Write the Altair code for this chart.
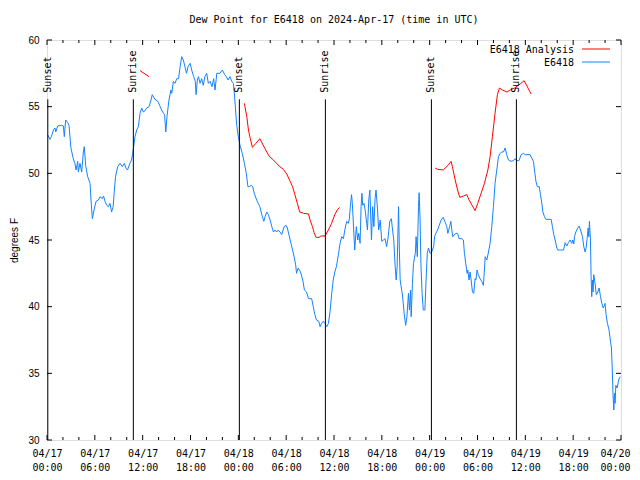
import altair as alt
import pandas as pd

# ---- data (hours since 2024-04-17 00:00 UTC, degrees F) ----
blue_h = [0.08, 0.38, 0.55, 0.8, 1.0, 1.1, 1.34, 1.84, 2.05, 2.17, 2.34, 2.6, 2.76, 3.0, 3.3, 3.5, 3.64, 3.85, 3.93,
          4.14, 4.35, 4.56, 4.68, 4.85, 5.1, 5.4, 5.52, 5.69, 5.9, 6.15, 6.44, 6.65, 6.94, 7.1, 7.27, 7.5, 7.7, 7.9,
          8.1, 8.3, 8.45, 8.6, 8.87, 9.16, 9.45, 9.7, 9.9, 10.1, 10.4, 10.6, 10.75, 10.87, 11.04, 11.25, 11.46,
          11.67, 11.88, 12.08, 12.3, 12.5, 12.8, 13.05, 13.2, 13.55, 13.9, 14.2, 14.5, 14.75, 14.9, 15.05, 15.2,
          15.3, 15.55, 15.65, 15.85, 16.06, 16.27, 16.5, 16.7, 16.9, 17.1, 17.3, 17.5, 17.7, 17.95, 18.15, 18.4,
          18.6, 18.7, 18.86, 19.0, 19.2, 19.4, 19.6, 19.8, 20.03, 20.24, 20.45, 20.7, 20.9, 21.08, 21.3, 21.7,
          22.0, 22.3, 22.5, 22.7, 22.96, 23.17, 23.38, 23.5, 23.67, 23.8, 24.0, 24.25, 24.5, 24.76, 25.0, 25.2,
          25.4, 25.6, 25.8, 26.0, 26.3, 26.5, 26.7, 26.94, 27.2, 27.35, 27.56, 27.77, 27.98, 28.2, 28.4, 28.6,
          28.8, 29.0, 29.23, 29.44, 29.74, 29.99, 30.15, 30.4, 30.6, 30.8, 31.0, 31.2, 31.3, 31.5, 31.8, 32.08,
          32.29, 32.55, 32.8, 33.2, 33.4, 33.6, 33.8, 34.1, 34.25, 34.45, 34.65, 34.85, 35.1, 35.3, 35.5, 35.7,
          35.9, 36.1, 36.3, 36.55, 36.76, 36.97, 37.18, 37.4, 37.6, 37.8, 37.93, 38.05, 38.2, 38.3, 38.47, 38.6,
          38.8, 38.98, 39.1, 39.27, 39.4, 39.5, 39.6, 39.77, 39.94, 40.1, 40.2, 40.36, 40.5, 40.7, 40.85, 41.0,
          41.15, 41.27, 41.45, 41.6, 41.8, 41.99, 42.2, 42.4, 42.6, 42.8, 43.0, 43.2, 43.3, 43.5, 43.66, 43.8,
          43.92, 44.04, 44.1, 44.2, 44.3, 44.45, 44.6, 44.8, 44.99, 45.15, 45.34, 45.46, 45.6, 45.68, 45.84,
          45.97, 46.2, 46.3, 46.45, 46.6, 46.68, 46.8, 46.9, 47.05, 47.2, 47.4, 47.55, 47.7, 47.85, 48.05, 48.25,
          48.5, 48.62, 48.77, 49.0, 49.2, 49.44, 49.7, 49.9, 50.15, 50.28, 50.5, 50.65, 50.78, 50.9, 51.1, 51.3,
          51.5, 51.7, 52.05, 52.23, 52.36, 52.53, 52.7, 52.78, 52.94, 53.07, 53.2, 53.37, 53.53, 53.7, 53.8,
          53.95, 54.1, 54.32, 54.53, 54.74, 54.87, 54.96, 55.17, 55.38, 55.58, 55.79, 56.0, 56.2, 56.42, 56.63,
          56.84, 57.05, 57.26, 57.46, 57.67, 57.88, 58.2, 58.5, 58.7, 58.9, 59.2, 59.47, 59.77, 59.98, 60.6,
          60.8, 61.02, 61.2, 61.33, 61.5, 61.75, 61.9, 62.07, 62.2, 62.4, 62.57, 63.24, 63.4, 63.57, 63.74,
          63.95, 64.08, 64.79, 65.0, 65.2, 65.4, 65.62, 65.83, 65.96, 66.08, 66.17, 66.33, 66.58, 66.75, 66.92,
          67.17, 67.33, 67.5, 67.62, 67.75, 67.88, 67.96, 68.04, 68.17, 68.25, 68.33, 68.42, 68.5, 68.58, 68.75,
          68.9, 69.1, 69.26, 69.43, 69.6, 69.76, 69.93, 70.0, 70.13, 70.3, 70.5, 70.66, 70.8, 70.9, 71.0, 71.1,
          71.18, 71.26, 71.35, 71.52, 71.7, 71.9]
blue_v = [52.9, 52.55, 52.75, 53.25, 53.4, 53.1, 53.55, 53.6, 53.55, 52.75, 54.0, 53.8, 53.6, 51.9, 51.1, 50.75, 50.25, 50.9, 50.1,
          50.75, 50.1, 51.6, 52.0, 50.6, 49.75, 49.25, 48.0, 46.6, 47.25, 47.9, 48.0, 48.25, 48.1, 48.3, 47.9, 47.6, 47.5, 47.75,
          47.1, 47.5, 48.75, 49.75, 50.5, 50.75, 50.5, 50.75, 50.4, 50.25, 50.75, 51.0, 51.5, 52.0, 52.75, 53.25, 53.5,
          54.5, 54.9, 54.6, 54.7, 54.9, 55.0, 55.5, 55.9, 55.55, 55.4, 55.0, 54.6, 54.4, 53.1, 54.25, 55.0,
          55.5, 56.25, 56.0, 56.9, 56.75, 57.1, 57.1, 58.0, 58.75, 58.5, 58.0, 57.5, 58.0, 58.25, 57.75, 57.25,
          56.9, 55.9, 57.0, 57.25, 56.75, 57.1, 56.6, 57.25, 57.5, 56.75, 56.9, 56.5, 57.1, 56.25, 57.5, 57.5,
          57.75, 57.4, 57.25, 57.0, 57.25, 56.9, 56.75, 56.0, 54.6, 53.6, 52.75, 52.0, 51.5, 50.75, 50.0, 49.0,
          49.0, 49.1, 49.0, 48.5, 48.0, 47.75, 47.5, 46.9, 46.4, 46.75, 47.1, 46.9, 46.5, 46.0, 45.6, 45.75,
          45.6, 45.75, 45.6, 45.4, 46.0, 46.1, 45.9, 45.25, 44.75, 44.25, 43.75, 43.1, 42.5, 42.9, 42.6, 42.0,
          41.25, 41.1, 40.6, 40.6, 40.0, 39.4, 39.0, 38.9, 38.5, 38.75, 38.9, 38.75, 38.5, 38.75, 39.6, 40.9,
          42.0, 42.6, 43.0, 43.9, 44.75, 45.25, 45.1, 45.9, 46.4, 46.25, 46.6, 47.5, 48.4, 47.75, 45.75, 44.25,
          46.0, 45.0, 45.5, 44.75, 47.5, 48.5, 47.6, 47.75, 47.1, 46.25, 45.75, 48.0, 48.75, 45.0, 47.5, 46.0,
          48.1, 48.75, 47.4, 45.75, 46.5, 44.9, 45.0, 45.1, 44.5, 45.25, 46.4, 46.6, 46.0, 45.0, 43.1, 42.0,
          43.0, 46.1, 47.5, 44.25, 42.0, 41.4, 40.8, 39.5, 38.6, 39.25, 41.0, 39.75, 41.25, 39.25, 41.75,
          43.25, 44.0, 45.25, 43.75, 47.5, 48.55, 46.5, 43.25, 41.0, 39.75, 39.75, 42.0, 44.0, 44.4, 44.0, 44.1,
          44.5, 45.25, 45.5, 45.75, 46.1, 46.5, 46.7, 46.4, 46.0, 45.5, 46.0, 46.4, 45.75, 45.25, 45.4, 45.5,
          45.5, 45.1, 45.1, 45.0, 44.0, 43.25, 42.5, 42.75, 42.0, 42.6, 42.0, 41.1, 41.0, 42.1, 42.0,
          42.75, 42.4, 42.1, 41.9, 41.6, 42.75, 43.75, 43.5, 44.1, 44.75, 46.0, 47.5, 49.25, 50.25, 51.25,
          51.5, 51.6, 51.6, 51.9, 51.4, 51.0, 50.9, 50.95, 51.1, 50.95, 50.95, 51.4, 51.5, 51.4, 51.4,
          51.15, 50.9, 50.0, 49.4, 49.0, 49.0, 48.4, 47.75, 47.1, 46.75, 46.55, 46.55, 46.0, 45.4, 45.0,
          44.4, 44.25, 44.25, 44.8, 44.55, 44.8, 45.0, 44.75, 45.0, 44.7, 45.25, 45.6, 45.9, 46.05, 45.75,
          45.25, 44.5, 44.1, 44.4, 45.1, 45.9, 45.25, 46.4, 45.0, 42.25, 40.75, 42.0, 41.1, 42.4, 41.75,
          40.9, 41.1, 41.4, 40.75, 40.25, 39.9, 40.1, 40.25, 39.4, 38.75, 38.25, 37.5, 36.9, 35.4, 33.4, 32.25,
          33.5, 32.75, 34.1, 33.9, 34.5, 34.75]

# E6418 Analysis (three separate pieces)
red_seg = [1, 1,
           2, 2, 2, 2, 2, 2, 2, 2, 2, 2, 2, 2, 2, 2, 2, 2, 2, 2, 2, 2, 2, 2, 2, 2, 2, 2, 2, 2, 2, 2, 2, 2, 2,
           3, 3, 3, 3, 3, 3, 3, 3, 3, 3, 3, 3, 3, 3, 3, 3, 3, 3, 3, 3, 3, 3, 3, 3, 3, 3, 3, 3, 3, 3]
red_h = [11.67, 12.8,
         24.76, 25.06, 25.27, 25.5, 25.76, 26.2, 26.7, 27.3, 27.85, 28.4, 28.8, 29.2, 29.65, 30.07, 30.5, 30.8,
         31.1, 31.4, 31.7, 32.2, 32.8, 33.0, 33.3, 33.5, 33.75, 34.17, 34.3, 34.88, 35.3, 35.7, 36.1, 36.4, 36.7,
         48.68, 49.0, 49.7, 50.3, 50.69, 50.85, 51.2, 51.5, 51.78, 52.24, 52.66, 52.94, 53.37, 53.7, 54.03,
         54.45, 54.87, 55.3, 55.58, 55.87, 56.2, 56.5, 56.75, 57.13, 57.7, 58.1, 58.64, 59.35, 59.85, 60.73]
red_v = [57.7, 57.25,
         55.25, 54.25, 53.25, 52.6, 51.95, 52.25, 52.6, 51.9, 51.3, 51.0, 50.75, 50.5, 50.3, 49.95, 49.4, 49.0,
         48.4, 47.75, 47.1, 47.0, 46.95, 46.5, 46.0, 45.55, 45.2, 45.2, 45.3, 45.3, 45.75, 46.25, 46.9, 47.25, 47.45,
         50.4, 50.3, 50.25, 50.6, 50.9, 50.5, 49.5, 48.75, 48.2, 48.3, 48.4, 48.0, 47.55, 47.2, 47.75,
         48.5, 49.25, 50.25, 51.25, 52.75, 54.5, 55.9, 56.4, 56.25, 56.1, 56.25, 56.4, 56.7, 56.95, 55.95]

event_h = [0.1, 10.83, 24.13, 34.92, 48.22, 58.88]
event_label = ["Sunset", "Sunrise", "Sunset", "Sunrise", "Sunset", "Sunrise"]

x_major = list(range(0, 73, 6))
x_minor = [h for h in range(0, 73, 2) if h % 6 != 0]
y_ticks = [30, 35, 40, 45, 50, 55, 60]

series_names = ["E6418 Analysis", "E6418"]
series_colors = ["#ff0000", "#1482ff"]

W, H = 574, 400
MONO = "DejaVu Sans Mono"
SANS = "Liberation Sans"

df = pd.concat([
    pd.DataFrame({"h": blue_h, "v": blue_v, "series": "E6418", "seg": 0}),
    pd.DataFrame({"h": red_h, "v": red_v, "series": "E6418 Analysis", "seg": red_seg}),
])
ev = pd.DataFrame({"h": event_h, "label": event_label})

xscale = alt.Scale(domain=[0, 72], nice=False, zero=False)
yscale = alt.Scale(domain=[30, 60], nice=False, zero=False)

x_label_expr = ("['04/' + (17 + floor(datum.value / 24)), "
                "(datum.value % 24 < 10 ? '0' : '') + (datum.value % 24) + ':00']")

lines = alt.Chart(df).mark_line(strokeWidth=1, clip=True).encode(
    x=alt.X("h:Q", scale=xscale, axis=alt.Axis(
        values=x_major, labelExpr=x_label_expr, domain=False, ticks=False, grid=False,
        labelFont=MONO, labelFontSize=10, labelColor="black", labelPadding=8,
        labelLineHeight=14, labelFlush=False, labelOverlap=False, labelBaseline="top", title=None,
        labelOffset=alt.condition("datum.value == 72", alt.value(-6), alt.value(0)))),
    y=alt.Y("v:Q", scale=yscale, axis=alt.Axis(
        values=y_ticks, domain=False, ticks=False, grid=False,
        labelFont=SANS, labelFontSize=10, labelColor="black", labelPadding=8,
        title="degrees F", titleFont=SANS, titleFontSize=10, titleFontWeight="normal",
        titleColor="black", titlePadding=8)),
    color=alt.Color("series:N", scale=alt.Scale(domain=series_names, range=series_colors), legend=None),
    detail="seg:N",
)

ev_rules = alt.Chart(ev).mark_rule(color="black", strokeWidth=1).encode(
    x=alt.X("h:Q", scale=xscale), y=alt.datum(55.55), y2=alt.datum(30))
ev_text = alt.Chart(ev).mark_text(angle=270, align="left", baseline="middle", font=MONO,
                                  fontSize=10, color="black").encode(
    x=alt.X("h:Q", scale=xscale), y=alt.datum(56.05), text="label:N")

xmaj = pd.DataFrame({"h": x_major})
xmin = pd.DataFrame({"h": x_minor})
yt = pd.DataFrame({"v": y_ticks})
tick = dict(color="black", strokeWidth=1)
tick_layers = [
    alt.Chart(xmaj).mark_rule(**tick).encode(x=alt.X("h:Q", scale=xscale), y=alt.value(H), y2=alt.value(H - 5)),
    alt.Chart(xmaj).mark_rule(**tick).encode(x=alt.X("h:Q", scale=xscale), y=alt.value(0), y2=alt.value(5)),
    alt.Chart(xmin).mark_rule(**tick).encode(x=alt.X("h:Q", scale=xscale), y=alt.value(H), y2=alt.value(H - 3)),
    alt.Chart(xmin).mark_rule(**tick).encode(x=alt.X("h:Q", scale=xscale), y=alt.value(0), y2=alt.value(3)),
    alt.Chart(yt).mark_rule(**tick).encode(y=alt.Y("v:Q", scale=yscale), x=alt.value(0), x2=alt.value(5)),
    alt.Chart(yt).mark_rule(**tick).encode(y=alt.Y("v:Q", scale=yscale), x=alt.value(W), x2=alt.value(W - 5)),
]

one = alt.Data(values=[{}])
legend_layers = []
for i, (name, col) in enumerate(zip(series_names, series_colors)):
    yy = 10 + 13 * i
    legend_layers.append(alt.Chart(one).mark_text(align="right", baseline="middle", font=MONO,
                                                  fontSize=10, color="black").encode(
        x=alt.value(527), y=alt.value(yy), text=alt.value(name)))
    legend_layers.append(alt.Chart(one).mark_rule(color=col, strokeWidth=1).encode(
        x=alt.value(535), x2=alt.value(563), y=alt.value(yy - 1)))

chart = alt.layer(lines, ev_rules, ev_text, *tick_layers, *legend_layers).properties(
    width=W, height=H,
    title=alt.TitleParams("Dew Point for E6418 on 2024-Apr-17 (time in UTC)", font=MONO, fontSize=10,
                          fontWeight="normal", color="black", anchor="middle", offset=10),
    autosize=alt.AutoSizeParams(type="none"),
    padding={"left": 39, "top": 32, "right": 11, "bottom": 36},
).configure_view(stroke="black", strokeWidth=1).configure(background="white")

chart.save("out.html", embed_options={"renderer": "svg", "actions": False})
